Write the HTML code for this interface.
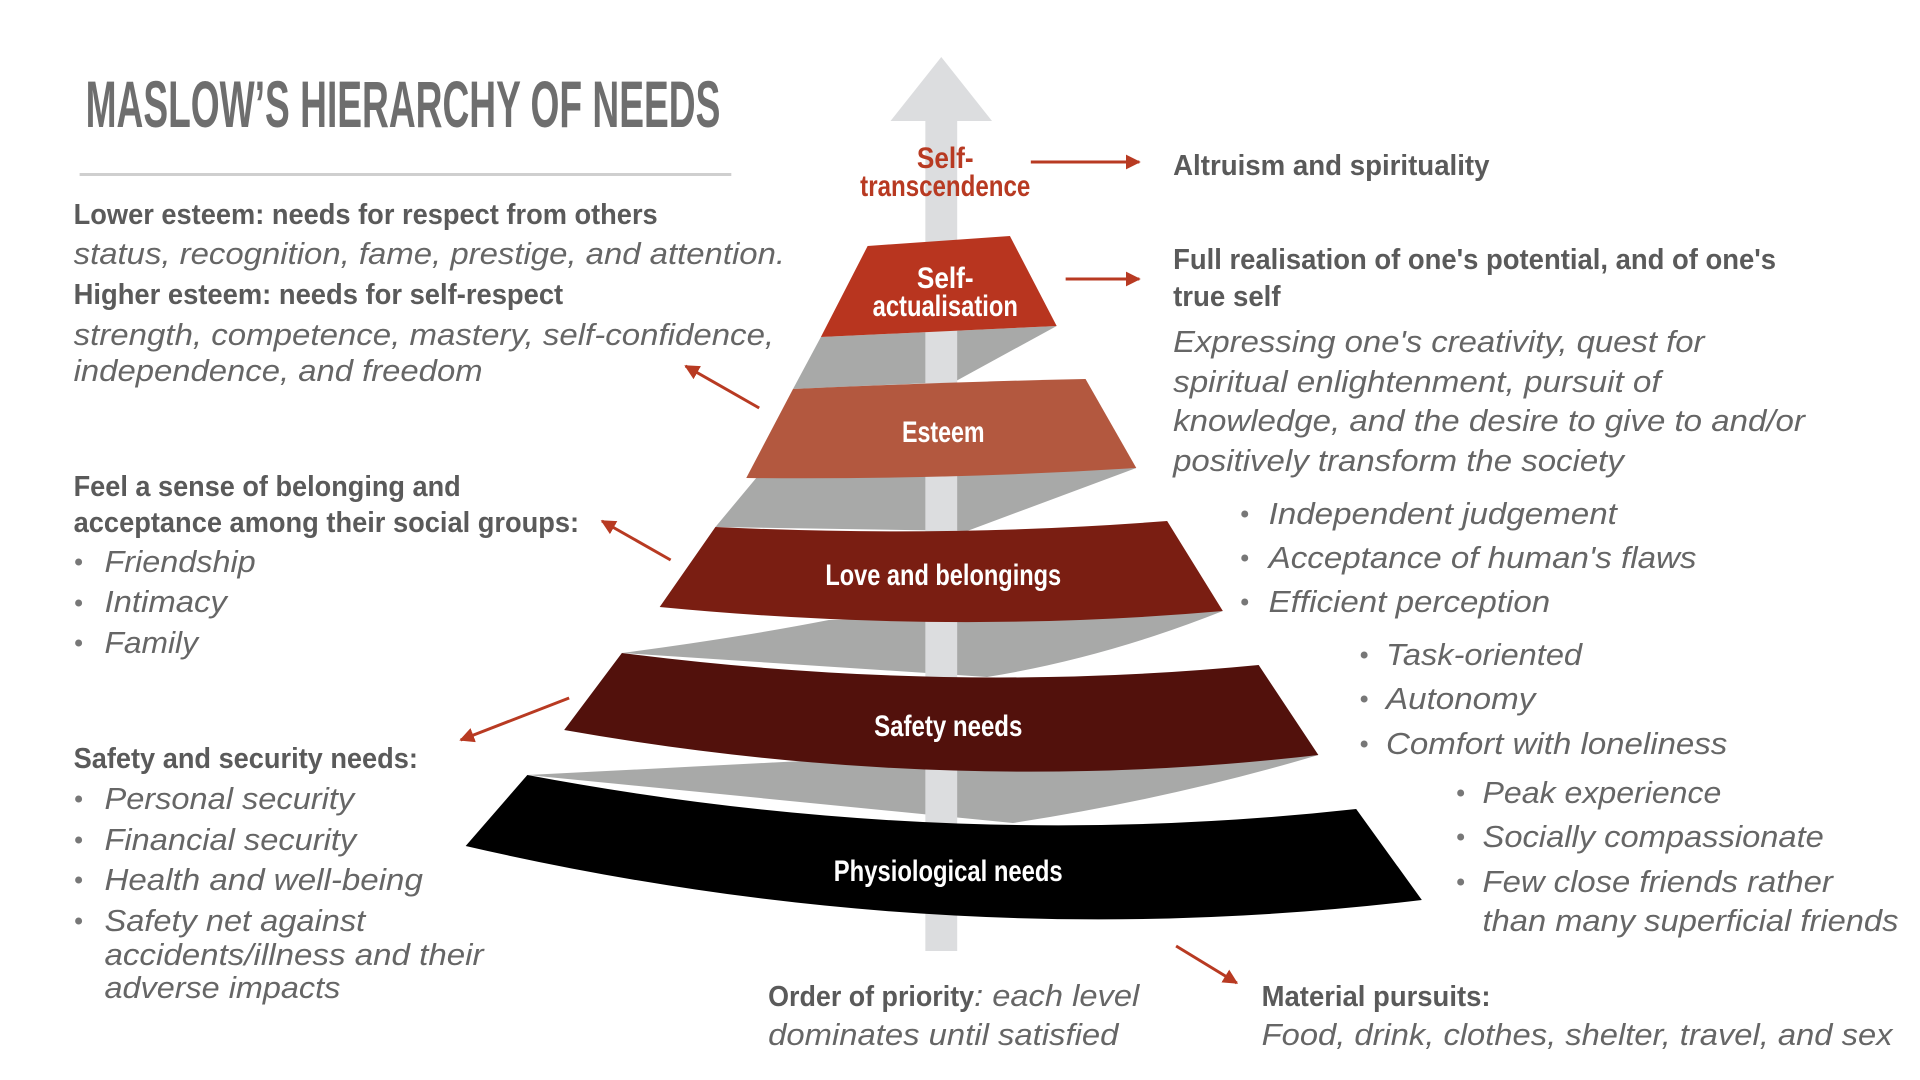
<!DOCTYPE html>
<html><head><meta charset="utf-8"><style>
html,body{margin:0;padding:0;background:#fff;}
svg{display:block;}
.b{font-family:"Liberation Sans Narrow","Liberation Sans",sans-serif;font-weight:bold;fill:#5a5a5a;font-size:29px;}
.i{font-family:"Liberation Sans",sans-serif;font-style:italic;fill:#666;font-size:31px;}
.w{font-family:"Liberation Sans Narrow","Liberation Sans",sans-serif;font-weight:bold;fill:#fff;font-size:30px;}
.d{fill:#777;}
</style></head><body>
<svg width="1920" height="1080" viewBox="0 0 1920 1080" xmlns="http://www.w3.org/2000/svg">
<defs>
<marker id="ah" viewBox="0 0 10 10" refX="9" refY="5" markerWidth="5" markerHeight="5" orient="auto" markerUnits="strokeWidth">
<path d="M0,0 L10,5 L0,10 z" fill="#b83a22"/></marker>
</defs>
<g transform="translate(0,-2) scale(0.995,1)">
<!-- title -->
<text x="86" y="129" font-family="Liberation Sans Narrow, Liberation Sans, sans-serif" font-weight="bold" font-size="66" fill="#6e6e6e" textLength="638" lengthAdjust="spacingAndGlyphs">MASLOW’S HIERARCHY OF NEEDS</text>
<rect x="80" y="175" width="655" height="3" fill="#cfcfcf"/>

<!-- gray ribbons -->
<g fill="#a8a9a8">
<polygon points="825,339 1062,328 959,384 797,391"/>
<path d="M760,480 L1142,470 L972,533 L719,529 Z"/>
<path d="M833,622 L1229,613 Q1110,660 992,679 L625,655 Q740,640 833,622 Z"/>
<path d="M807,763 L1325,757 Q1180,800 1018,825 L530,777 Q670,770 807,763 Z"/>
</g>
<!-- arrow -->
<rect x="930" y="115" width="32" height="838" fill="#dcdddf"/>
<polygon points="946,59 997,123 895,123" fill="#dcdddf"/>

<!-- layers -->
<polygon points="872,248 1015,238 1062,328 825,339" fill="#b8351f"/>
<path d="M797,391 Q950,384 1091,381 L1142,470 Q950,482 750,480 Z" fill="#b3583f"/>
<path d="M719,529 Q954,540 1173,523 L1229,613 Q954,637 663,609 Z" fill="#7a1e12"/>
<path d="M625,655 Q955,697 1265,667 L1325,757 Q954,800 567,732 Z" fill="#52110c"/>
<path d="M530,777 Q953,856 1363,811 L1429,902 Q951,959 468,848 Z" fill="#000"/>

<!-- layer labels -->
<text class="w" x="950" y="170" text-anchor="middle" style="fill:#b83a22" textLength="57" lengthAdjust="spacingAndGlyphs">Self-</text>
<text class="w" x="950" y="198" text-anchor="middle" style="fill:#b83a22" textLength="171" lengthAdjust="spacingAndGlyphs">transcendence</text>
<text class="w" x="950" y="290" text-anchor="middle" textLength="57" lengthAdjust="spacingAndGlyphs">Self-</text>
<text class="w" x="950" y="318" text-anchor="middle" textLength="146" lengthAdjust="spacingAndGlyphs">actualisation</text>
<text class="w" x="948" y="444" text-anchor="middle" textLength="83" lengthAdjust="spacingAndGlyphs">Esteem</text>
<text class="w" x="948" y="587" text-anchor="middle" textLength="237" lengthAdjust="spacingAndGlyphs">Love and belongings</text>
<text class="w" x="953" y="738" text-anchor="middle" textLength="149" lengthAdjust="spacingAndGlyphs">Safety needs</text>
<text class="w" x="953" y="883" text-anchor="middle" textLength="230" lengthAdjust="spacingAndGlyphs">Physiological needs</text>

<!-- red arrows -->
<g stroke="#b83a22" stroke-width="3" fill="none" marker-end="url(#ah)">
<line x1="1036" y1="164" x2="1145" y2="164"/>
<line x1="1071" y1="281" x2="1145" y2="281"/>
<line x1="763" y1="410" x2="689" y2="368"/>
<line x1="674" y1="562" x2="605" y2="523"/>
<line x1="572" y1="700" x2="463" y2="742"/>
<line x1="1182" y1="948" x2="1243" y2="985"/>
</g>

<!-- left texts -->
<text class="b" x="74" y="226" textLength="587" lengthAdjust="spacingAndGlyphs">Lower esteem: needs for respect from others</text>
<text class="i" x="74" y="266" textLength="715" lengthAdjust="spacingAndGlyphs">status, recognition, fame, prestige, and attention.</text>
<text class="b" x="74" y="306" textLength="492" lengthAdjust="spacingAndGlyphs">Higher esteem: needs for self-respect</text>
<text class="i" x="74" y="347" textLength="704" lengthAdjust="spacingAndGlyphs">strength, competence, mastery, self-confidence,</text>
<text class="i" x="74" y="383" textLength="411" lengthAdjust="spacingAndGlyphs">independence, and freedom</text>

<text class="b" x="74" y="498" textLength="389" lengthAdjust="spacingAndGlyphs">Feel a sense of belonging and</text>
<text class="b" x="74" y="534" textLength="508" lengthAdjust="spacingAndGlyphs">acceptance among their social groups:</text>
<g class="d"><circle cx="79" cy="564" r="3.5"/><circle cx="79" cy="605" r="3.5"/><circle cx="79" cy="645" r="3.5"/></g>
<text class="i" x="105" y="574" textLength="152" lengthAdjust="spacingAndGlyphs">Friendship</text>
<text class="i" x="105" y="614" textLength="123" lengthAdjust="spacingAndGlyphs">Intimacy</text>
<text class="i" x="105" y="655" textLength="94" lengthAdjust="spacingAndGlyphs">Family</text>

<text class="b" x="74" y="770" textLength="346" lengthAdjust="spacingAndGlyphs">Safety and security needs:</text>
<g class="d"><circle cx="79" cy="801" r="3.5"/><circle cx="79" cy="842" r="3.5"/><circle cx="79" cy="882" r="3.5"/><circle cx="79" cy="923" r="3.5"/></g>
<text class="i" x="105" y="811" textLength="251" lengthAdjust="spacingAndGlyphs">Personal security</text>
<text class="i" x="105" y="852" textLength="253" lengthAdjust="spacingAndGlyphs">Financial security</text>
<text class="i" x="105" y="892" textLength="320" lengthAdjust="spacingAndGlyphs">Health and well-being</text>
<text class="i" x="105" y="933" textLength="262" lengthAdjust="spacingAndGlyphs">Safety net against</text>
<text class="i" x="105" y="967" textLength="381" lengthAdjust="spacingAndGlyphs">accidents/illness and their</text>
<text class="i" x="105" y="1000" textLength="237" lengthAdjust="spacingAndGlyphs">adverse impacts</text>

<!-- right texts -->
<text class="b" x="1179" y="177" textLength="318" lengthAdjust="spacingAndGlyphs">Altruism and spirituality</text>
<text class="b" x="1179" y="271" textLength="606" lengthAdjust="spacingAndGlyphs">Full realisation of one's potential, and of one's</text>
<text class="b" x="1179" y="308" textLength="108" lengthAdjust="spacingAndGlyphs">true self</text>
<text class="i" x="1179" y="354" textLength="534" lengthAdjust="spacingAndGlyphs">Expressing one's creativity, quest for</text>
<text class="i" x="1179" y="394" textLength="490" lengthAdjust="spacingAndGlyphs">spiritual enlightenment, pursuit of</text>
<text class="i" x="1179" y="433" textLength="635" lengthAdjust="spacingAndGlyphs">knowledge, and the desire to give to and/or</text>
<text class="i" x="1179" y="473" textLength="453" lengthAdjust="spacingAndGlyphs">positively transform the society</text>

<g class="d"><circle cx="1251" cy="516" r="3.5"/><circle cx="1251" cy="560" r="3.5"/><circle cx="1251" cy="604" r="3.5"/>
<circle cx="1371" cy="657" r="3.5"/><circle cx="1371" cy="701" r="3.5"/><circle cx="1371" cy="746" r="3.5"/>
<circle cx="1468" cy="795" r="3.5"/><circle cx="1468" cy="839" r="3.5"/><circle cx="1468" cy="884" r="3.5"/></g>
<text class="i" x="1275" y="526" textLength="350" lengthAdjust="spacingAndGlyphs">Independent judgement</text>
<text class="i" x="1275" y="570" textLength="430" lengthAdjust="spacingAndGlyphs">Acceptance of human's flaws</text>
<text class="i" x="1275" y="614" textLength="283" lengthAdjust="spacingAndGlyphs">Efficient perception</text>
<text class="i" x="1393" y="667" textLength="197" lengthAdjust="spacingAndGlyphs">Task-oriented</text>
<text class="i" x="1393" y="711" textLength="150" lengthAdjust="spacingAndGlyphs">Autonomy</text>
<text class="i" x="1393" y="756" textLength="343" lengthAdjust="spacingAndGlyphs">Comfort with loneliness</text>
<text class="i" x="1490" y="805" textLength="240" lengthAdjust="spacingAndGlyphs">Peak experience</text>
<text class="i" x="1490" y="849" textLength="343" lengthAdjust="spacingAndGlyphs">Socially compassionate</text>
<text class="i" x="1490" y="894" textLength="352" lengthAdjust="spacingAndGlyphs">Few close friends rather</text>
<text class="i" x="1490" y="933" textLength="418" lengthAdjust="spacingAndGlyphs">than many superficial friends</text>

<!-- bottom -->
<text class="b" x="772" y="1008" textLength="207" lengthAdjust="spacingAndGlyphs">Order of priority</text>
<text class="i" x="979" y="1008" textLength="166" lengthAdjust="spacingAndGlyphs">: each level</text>
<text class="i" x="772" y="1047" textLength="352" lengthAdjust="spacingAndGlyphs">dominates until satisfied</text>
<text class="b" x="1268" y="1008" textLength="230" lengthAdjust="spacingAndGlyphs">Material pursuits:</text>
<text class="i" x="1268" y="1047" textLength="634" lengthAdjust="spacingAndGlyphs">Food, drink, clothes, shelter, travel, and sex</text>
</g>
</svg>
</body></html>
